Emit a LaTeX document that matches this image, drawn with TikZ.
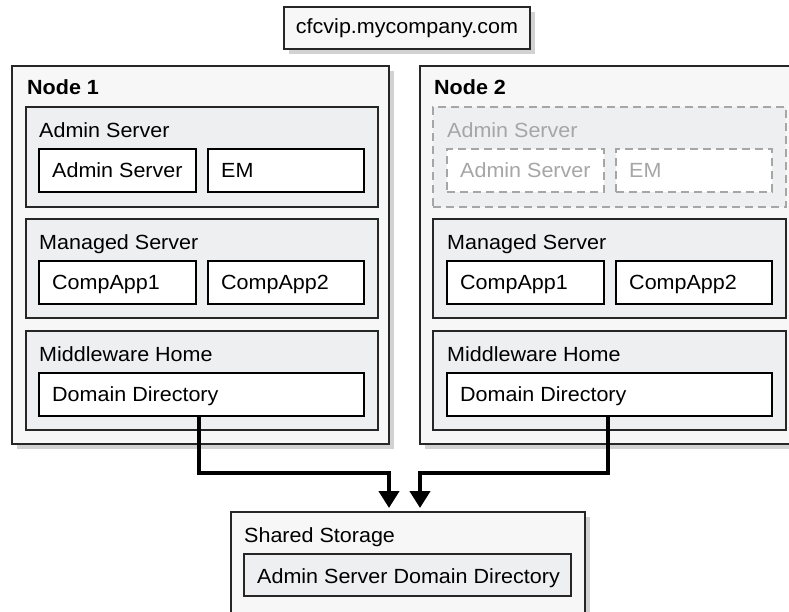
\documentclass[tikz,border=0pt]{standalone}
\usepackage{fontspec}
\setmainfont[FakeStretch=1.05]{Liberation Sans}
\usetikzlibrary{fit,shadows,arrows.meta}
\definecolor{outerfill}{HTML}{F7F7F7}
\definecolor{contfill}{HTML}{EEEFF1}
\definecolor{shadowgray}{HTML}{D2D2D2}
\definecolor{ghost}{HTML}{A6A6A6}
\tikzset{
  txt/.style={font=\fontsize{20.5}{24}\selectfont, inner sep=0pt, anchor=base west},
  rect/.style={inner sep=0pt, fit={#1}},
  shad/.style={drop shadow={shadow xshift=5pt, shadow yshift=-5pt, fill=shadowgray, opacity=1}},
  outerbox/.style={rect={#1}, draw=black!85, line width=1.4pt, fill=outerfill, shad},
  contbox/.style={rect={#1}, draw=black!85, line width=1.2pt, fill=contfill},
  whitebox/.style={rect={#1}, draw=black, line width=2pt, fill=white},
  ghostcont/.style={rect={#1}, draw=ghost, line width=1.6pt, dash pattern=on 8pt off 5pt, fill=contfill},
  ghostbox/.style={rect={#1}, draw=ghost, line width=2pt, dash pattern=on 8pt off 5pt, fill=white},
  conn/.style={line width=4.5pt, line join=miter, -{Triangle[width=20pt,length=17pt]}},
}
\begin{document}
\begin{tikzpicture}[x=1pt,y=-1pt]
\clip (0,0) rectangle (789,611);
\fill[white] (0,0) rectangle (789,611);

% VIP
\node[outerbox={(284,7) (530,49)}] (vip) {};
\node[txt, anchor=center] at (vip.center) {cfcvip.mycompany.com};

% Node 1
\node[outerbox={(12,66) (389,444)}] (n1) {};
\node[txt, font=\fontsize{20.5}{24}\selectfont\bfseries] (n1l) at (27,94) {Node 1};
\node[contbox={(26,107) (378,207)}] (a1) {};
\node[txt] (a1l) at (39,137) {Admin Server};
\node[whitebox={(39,149) (196,192)}] (as1) {};
\node[txt] at (52,177) {Admin Server};
\node[whitebox={(208,149) (364,192)}] (em1) {};
\node[txt] at (221,177) {EM};
\node[contbox={(26,219) (378,318)}] (m1) {};
\node[txt] at (39,249) {Managed Server};
\node[whitebox={(39,261) (196,304)}] (c11) {};
\node[txt] at (52,289) {CompApp1};
\node[whitebox={(208,261) (364,304)}] (c12) {};
\node[txt] at (221,289) {CompApp2};
\node[contbox={(26,331) (378,430)}] (h1) {};
\node[txt] at (39,361) {Middleware Home};
\node[whitebox={(39,373) (364,416)}] (d1) {};
\node[txt] at (52,401) {Domain Directory};

% Node 2
\node[outerbox={(420,66) (797,444)}] (n2) {};
\node[txt, font=\fontsize{20.5}{24}\selectfont\bfseries] at (434,94) {Node 2};
\node[ghostcont={(433,107) (786,207)}] (a2) {};
\node[txt, text=ghost] at (447,137) {Admin Server};
\node[ghostbox={(447,149) (604,192)}] (as2) {};
\node[txt, text=ghost] at (460,177) {Admin Server};
\node[ghostbox={(616,149) (772,192)}] (em2) {};
\node[txt, text=ghost] at (629,177) {EM};
\node[contbox={(433,219) (786,318)}] (m2) {};
\node[txt] at (447,249) {Managed Server};
\node[whitebox={(447,261) (604,304)}] (c21) {};
\node[txt] at (460,289) {CompApp1};
\node[whitebox={(616,261) (772,304)}] (c22) {};
\node[txt] at (629,289) {CompApp2};
\node[contbox={(433,331) (786,430)}] (h2) {};
\node[txt] at (447,361) {Middleware Home};
\node[whitebox={(447,373) (772,416)}] (d2) {};
\node[txt] at (460,401) {Domain Directory};

% Shared storage
\node[outerbox={(231,512) (585,616)}] (ss) {};
\node[txt] at (244,542) {Shared Storage};
\node[contbox={(244,554) (571,596)}, line width=1.6pt] (sd) {};
\node[txt] at (257,583) {Admin Server Domain Directory};

% connectors
\coordinate (t1) at (389,508);
\coordinate (t2) at (420,508);
\coordinate (k1) at (199,473);
\coordinate (k2) at (608,473);
\draw[conn] (d1.south -| k1) -- (k1) -| (t1);
\draw[conn] (d2.south -| k2) -- (k2) -| (t2);
\end{tikzpicture}
\end{document}
